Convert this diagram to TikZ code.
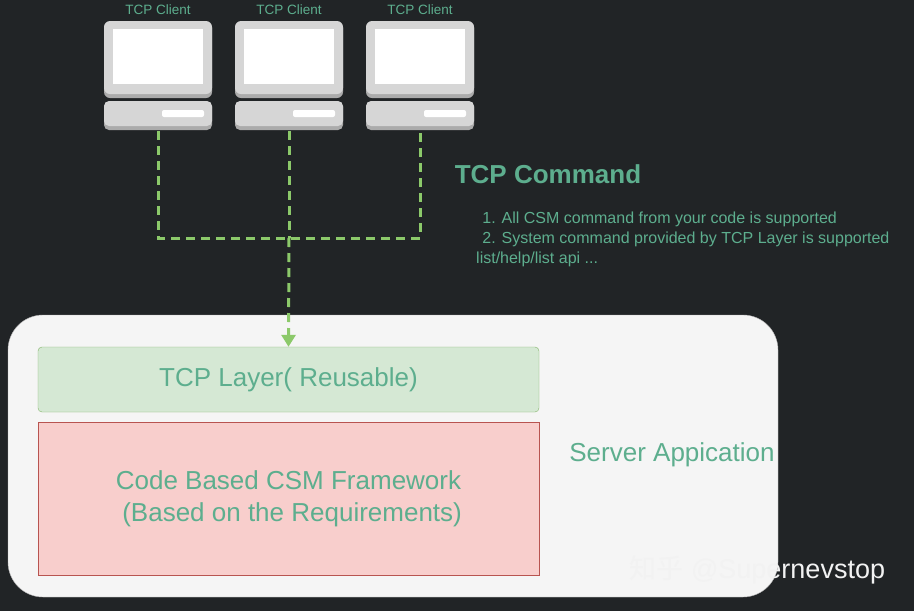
\documentclass[tikz,border=0pt]{standalone}
\usepackage{fontspec}
\setmainfont{Liberation Sans}
\newfontfamily\cjk{Noto Sans CJK SC}
\usetikzlibrary{arrows.meta}
\definecolor{bg}{HTML}{212426}
\definecolor{tg}{HTML}{5DAE8E}
\definecolor{lgreen}{HTML}{8CC96A}
\definecolor{scr}{HTML}{D6D6D6}
\definecolor{gfill}{HTML}{D5E8D4}
\definecolor{gline}{HTML}{82B366}
\definecolor{rfill}{HTML}{F8CECC}
\definecolor{rline}{HTML}{B85450}
\begin{document}
\begin{tikzpicture}[x=1pt,y=-1pt,
  lbl/.style={text=tg,font=\fontsize{13.5}{15}\selectfont},
  conn/.style={lgreen,line width=3pt,dash pattern=on 9pt off 6pt}]
\fill[bg] (0,0) rectangle (914,611);
\useasboundingbox (0,0) rectangle (914,611);
\foreach \n/\c in {a/158,b/289,c/420}{
  \fill[scr!80!black,rounded corners=6pt] (\c-54,22) rectangle (\c+54,98);
  \fill[scr,rounded corners=6pt] (\c-54,21) rectangle (\c+54,94);
  \fill[white] (\c-45,29) rectangle (\c+45,84);
  \fill[scr!80!black,rounded corners=5pt] (\c-54,102) rectangle (\c+54,130);
  \fill[scr,rounded corners=5pt] (\c-54,101) rectangle (\c+54,126);
  \fill[white,rounded corners=2pt] (\c+4,110) rectangle (\c+46,117);
  \coordinate (\n) at (\c,131);
  \node[lbl] at (\c,10) {TCP Client};
}
\coordinate (ja) at (158,238); \coordinate (jb) at (289,238); \coordinate (jc) at (420,238);
\draw[conn] (a) -- (ja) -- (jc) -- (c);
\draw[conn] (b) -- (jb);
\fill[white!96!black,draw=gray!60,rounded corners=35pt] (8,315) rectangle (778,597);
\node[draw=gline,fill=gfill,rounded corners=4pt,minimum width=501pt,minimum height=65pt,text=tg,font=\fontsize{26}{30}\selectfont] (tcp) at (288.5,379.5) {TCP Layer( Reusable)};
\draw[conn,-{Triangle[length=12pt,width=14pt]}] (jb) -- (tcp.north);
\node[draw=rline,fill=rfill,minimum width=501pt,minimum height=153pt,text=tg,font=\fontsize{26}{32}\selectfont,align=center] (csm) at (288.5,498.5) {Code Based CSM Framework\\\ (Based on the Requirements)};
\node[text=tg,font=\fontsize{26}{30}\selectfont] (srv) at (672,455) {Server Appication};
\node[text=tg,font=\bfseries\fontsize{26}{30}\selectfont] (cmd) at (548,174) {TCP Command};
\node[text=tg,font=\fontsize{16}{20}\selectfont,align=left,anchor=north west] (lst) at (470,208) {\ \ 1. All CSM command from your code is supported\\\ \ 2. System command provided by TCP Layer is supported\\\,list/help/list api ...};
\node[text=white!90!gray,font=\fontsize{27}{30}\selectfont,anchor=west] (wm) at (626,570) {{\cjk 知乎} @Supernevstop};
\end{tikzpicture}
\end{document}
